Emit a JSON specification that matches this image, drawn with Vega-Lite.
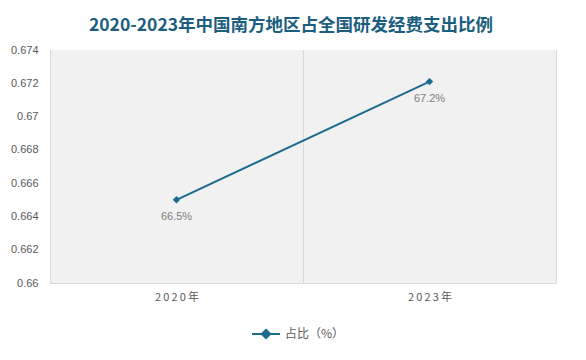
{
  "$schema": "https://vega.github.io/schema/vega-lite/v6.json",
  "width": 506,
  "height": 233,
  "autosize": {"type": "none"},
  "padding": {"left": 50, "top": 50, "right": 30, "bottom": 77},
  "background": "white",
  "config": {
    "view": {"fill": "#f1f1f1", "stroke": null},
    "font": "Noto Sans CJK SC"
  },
  "title": {
    "text": "2020-2023年中国南方地区占全国研发经费支出比例",
    "fontSize": 17.5,
    "fontWeight": "bold",
    "color": "#1b5e80",
    "font": "Noto Sans CJK SC",
    "anchor": "middle",
    "offset": 10,
    "dx": -12
  },
  "data": {
    "values": [
      {"year": "2020年", "value": 0.665, "label": "66.5%", "series": "占比（%）"},
      {"year": "2023年", "value": 0.6721, "label": "67.2%", "series": "占比（%）"}
    ]
  },
  "encoding": {
    "x": {
      "field": "year",
      "type": "nominal",
      "scale": {"paddingInner": 0, "paddingOuter": 0},
      "axis": {
        "title": null,
        "labelAngle": 0,
        "labelFontSize": 11,
        "labelColor": "#595959",
        "labelFont": "Noto Sans CJK SC",
        "labelExpr": "join(split(datum.label, ''), '\u2009')",
        "labelPadding": 8,
        "ticks": false,
        "domainColor": "#d9d9d9",
        "grid": true,
        "gridColor": "#d9d9d9",
        "tickBand": "extent"
      }
    },
    "y": {
      "field": "value",
      "type": "quantitative",
      "scale": {"domain": [0.66, 0.674], "zero": false},
      "axis": {
        "title": null,
        "values": [0.66, 0.662, 0.664, 0.666, 0.668, 0.67, 0.672, 0.674],
        "format": "~g",
        "grid": false,
        "ticks": false,
        "labelPadding": 12,
        "labelFontSize": 11,
        "labelColor": "#595959",
        "labelFont": "Liberation Sans",
        "domainColor": "#d9d9d9"
      }
    }
  },
  "layer": [
    {
      "mark": {
        "type": "line",
        "strokeWidth": 2,
        "point": {"shape": "diamond", "filled": true, "size": 55}
      },
      "encoding": {
        "color": {
          "field": "series",
          "type": "nominal",
          "scale": {"range": ["#1d6b8e"]},
          "legend": {
            "title": null,
            "orient": "none",
            "legendX": 201,
            "legendY": 269,
            "labelFontSize": 12,
            "labelColor": "#595959",
            "labelFont": "Noto Sans CJK SC",
            "symbolType": "M-1,0H1M0,-0.3L0.3,0L0,0.3L-0.3,0Z",
            "symbolSize": 784,
            "symbolStrokeWidth": 2,
            "symbolFillColor": "#1d6b8e",
            "symbolStrokeColor": "#1d6b8e"
          }
        }
      }
    },
    {
      "mark": {
        "type": "text",
        "dy": 17,
        "fontSize": 11,
        "color": "#7f7f7f",
        "font": "Liberation Sans"
      },
      "encoding": {"text": {"field": "label"}}
    }
  ]
}
